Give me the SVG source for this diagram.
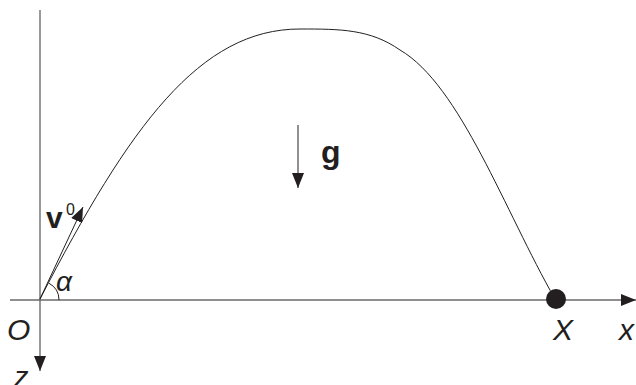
<svg xmlns="http://www.w3.org/2000/svg" width="636" height="385" viewBox="0 0 636 385">
<defs>
<style>
.lbl{font-family:"Liberation Sans",Arial,sans-serif;fill:#231f20}
.it{font-style:italic}
.bd{font-weight:bold}
.ax{fill:none;stroke:#231f20;stroke-width:1.2}
.ln{fill:none;stroke:#231f20;stroke-width:1}
</style>
<marker id="ah" markerUnits="userSpaceOnUse" markerWidth="15" markerHeight="12" refX="15" refY="6" orient="auto">
<path d="M0,0 L15,6 L0,12 z" fill="#231f20"/>
</marker>
</defs>
<g id="connectors">
<line id="x-axis" class="ax" x1="10" y1="300" x2="636" y2="300" marker-end="url(#ah)"/>
<line id="z-axis" class="ax" x1="40" y1="10" x2="40" y2="371" style="stroke:#555" marker-end="url(#ah)"/>
<line id="g-arrow" class="ln" x1="298" y1="125" x2="298" y2="188" marker-end="url(#ah)"/>
<line id="v0-arrow" class="ln" x1="40" y1="299" x2="83" y2="207" marker-end="url(#ah)"/>
<path id="trajectory" class="ln" d="M40,299 C130,125 200,29 300,29 C340,29 370,29 400,50 C460,85 505,211.5 555,299"/>
<path id="angle" class="ln" d="M59,300 A19,19 0 0 0 48.9,283.2"/>
</g>
<g id="ball"><circle cx="556" cy="299" r="10" fill="#231f20"/></g>
<g id="labels">
<text class="lbl it" x="7" y="340" font-size="30">O</text>
<text class="lbl it" x="14" y="387" font-size="29">z</text>
<text class="lbl it" x="56" y="291" font-size="28">α</text>
<text class="lbl bd" x="46" y="228" font-size="30">v</text>
<text class="lbl" x="66" y="215" font-size="16">0</text>
<text class="lbl bd" x="321" y="163" font-size="32">g</text>
<text class="lbl it" x="553" y="340" font-size="30">X</text>
<text class="lbl it" x="619" y="340" font-size="30">x</text>
</g>
</svg>
